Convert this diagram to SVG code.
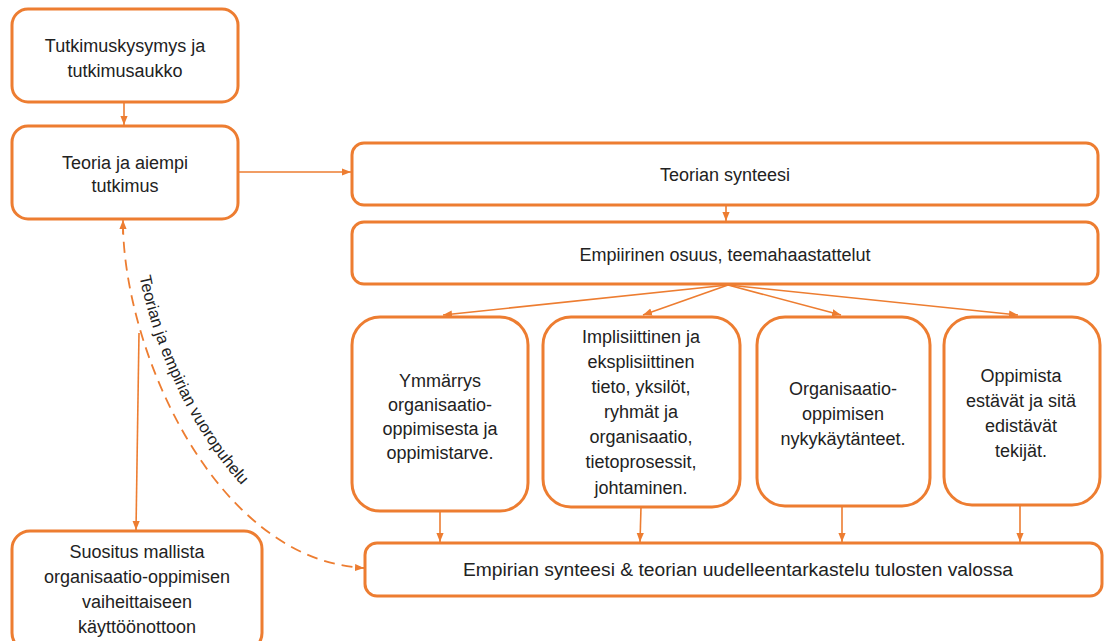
<svg xmlns="http://www.w3.org/2000/svg" width="1105" height="641" viewBox="0 0 1105 641">
<defs>
<marker id="ah" viewBox="0 0 10 10" refX="10" refY="5" markerWidth="9" markerHeight="9" markerUnits="userSpaceOnUse" orient="auto">
<path d="M0,1 L10,5 L0,9 Z" fill="#ED7D31"/>
</marker>
<style>
.box{fill:#fff;stroke:#ED7D31;stroke-width:3}
.t{font-family:"Liberation Sans",Arial,sans-serif;font-size:18px;fill:#222;text-anchor:middle}
.c{fill:none;stroke:#ED7D31;stroke-width:1.6}
.d{fill:none;stroke:#ED7D31;stroke-width:1.8;stroke-dasharray:11 7}
</style>
</defs>
<rect width="1105" height="641" fill="#fff"/>
<g id="connectors">
<line class="c" x1="124" y1="102" x2="124" y2="125" marker-end="url(#ah)"/>
<line class="c" x1="238" y1="172" x2="351" y2="172" marker-end="url(#ah)"/>
<line class="c" x1="726" y1="205" x2="726" y2="221" marker-end="url(#ah)"/>
<line class="c" x1="728" y1="285" x2="443" y2="315" marker-end="url(#ah)"/>
<line class="c" x1="728" y1="285" x2="643" y2="315" marker-end="url(#ah)"/>
<line class="c" x1="728" y1="285" x2="841" y2="315" marker-end="url(#ah)"/>
<line class="c" x1="728" y1="285" x2="1018" y2="315" marker-end="url(#ah)"/>
<line class="c" x1="440" y1="511" x2="440" y2="542" marker-end="url(#ah)"/>
<line class="c" x1="641" y1="507" x2="640" y2="542" marker-end="url(#ah)"/>
<line class="c" x1="842" y1="506" x2="842" y2="542" marker-end="url(#ah)"/>
<line class="c" x1="1020" y1="505" x2="1020" y2="542" marker-end="url(#ah)"/>
<line class="c" x1="139" y1="333" x2="136" y2="530" marker-end="url(#ah)"/>
<line class="c" x1="123" y1="234" x2="123" y2="220" marker-end="url(#ah)"/>
<path id="curve" class="d" d="M123,224 C124,350 215,560 364,568" marker-end="url(#ah)"/>
<path id="tp" fill="none" d="M133,219 C134,337 228,545 370,555"/>
<text font-family="'Liberation Sans',Arial,sans-serif" font-size="16.5" fill="#222"><textPath href="#tp" startOffset="58">Teorian ja empirian vuoropuhelu</textPath></text>
</g>
<g id="n1"><rect class="box" x="12" y="9" width="226" height="93" rx="16"/>
<text class="t" x="125" y="52">Tutkimuskysymys ja</text><text class="t" x="125" y="77">tutkimusaukko</text></g>
<g id="n2"><rect class="box" x="12" y="126" width="226" height="93" rx="16"/>
<text class="t" x="125" y="169">Teoria ja aiempi</text><text class="t" x="125" y="192">tutkimus</text></g>
<g id="n3"><rect class="box" x="352" y="143" width="746" height="62" rx="12"/>
<text class="t" x="725" y="181">Teorian synteesi</text></g>
<g id="n4"><rect class="box" x="352" y="222" width="746" height="62" rx="12"/>
<text class="t" x="725" y="261">Empiirinen osuus, teemahaastattelut</text></g>
<g id="n5"><rect class="box" x="352" y="317" width="176" height="194" rx="28"/>
<text class="t" x="440" y="387">Ymmärrys</text><text class="t" x="440" y="411">organisaatio-</text><text class="t" x="440" y="435">oppimisesta ja</text><text class="t" x="440" y="459">oppimistarve.</text></g>
<g id="n6"><rect class="box" x="543" y="317" width="197" height="190" rx="28"/>
<text class="t" x="641" y="343">Implisiittinen ja</text><text class="t" x="641" y="368">eksplisiittinen</text><text class="t" x="641" y="393">tieto, yksilöt,</text><text class="t" x="641" y="418">ryhmät ja</text><text class="t" x="641" y="443">organisaatio,</text><text class="t" x="641" y="468">tietoprosessit,</text><text class="t" x="641" y="494">johtaminen.</text></g>
<g id="n7"><rect class="box" x="757" y="317" width="173" height="189" rx="28"/>
<text class="t" x="843" y="395">Organisaatio-</text><text class="t" x="843" y="420">oppimisen</text><text class="t" x="843" y="445">nykykäytänteet.</text></g>
<g id="n8"><rect class="box" x="944" y="317" width="156" height="188" rx="28"/>
<text class="t" x="1021" y="382">Oppimista</text><text class="t" x="1021" y="407">estävät ja sitä</text><text class="t" x="1021" y="432">edistävät</text><text class="t" x="1021" y="457">tekijät.</text></g>
<g id="n9"><rect class="box" x="365" y="543" width="737" height="53" rx="12"/>
<text class="t" x="738" y="576" textLength="550" lengthAdjust="spacingAndGlyphs">Empirian synteesi &amp; teorian uudelleentarkastelu tulosten valossa</text></g>
<g id="n10"><rect class="box" x="12" y="531" width="250" height="120" rx="18"/>
<text class="t" x="137" y="558">Suositus mallista</text><text class="t" x="137" y="583">organisaatio-oppimisen</text><text class="t" x="137" y="608">vaiheittaiseen</text><text class="t" x="137" y="633">käyttöönottoon</text></g>
</svg>
